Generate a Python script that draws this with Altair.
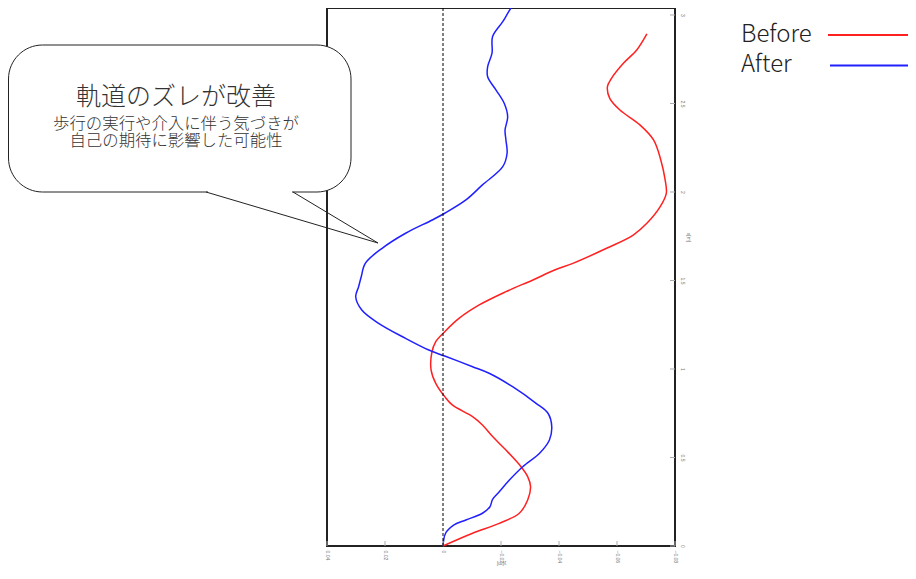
import altair as alt
import pandas as pd

# After (blue): x[m] along the walkway, y[m] lateral deviation
after_x = [0, 0.072, 0.119, 0.147, 0.185, 0.222, 0.264, 0.307, 0.373, 0.448, 0.524, 0.599,
           0.674, 0.750, 0.806, 0.900, 0.976, 1.013, 1.073, 1.107, 1.173, 1.258, 1.333,
           1.408, 1.465, 1.521, 1.597, 1.682, 1.767, 1.842, 1.880, 1.955, 2.040, 2.143,
           2.219, 2.294, 2.350, 2.425, 2.501, 2.576, 2.651, 2.708, 2.784, 2.878, 2.962,
           3.009, 3.039]
after_y = [0, -0.0009, -0.0038, -0.0079, -0.0136, -0.0162, -0.0171, -0.0194, -0.0229,
           -0.0275, -0.0333, -0.0367, -0.0375, -0.0362, -0.0321, -0.0240, -0.0159, -0.0102,
           -0.0006, 0.0049, 0.0129, 0.0222, 0.0280, 0.0301, 0.0291, 0.0282, 0.0268, 0.0210,
           0.0129, 0.0037, -0.0006, -0.0079, -0.0136, -0.0206, -0.0221, -0.0217, -0.0214,
           -0.0223, -0.0211, -0.0183, -0.0154, -0.0154, -0.0169, -0.0171, -0.0206, -0.0223,
           -0.0234]

# Before (red)
before_x = [0, 0.072, 0.128, 0.185, 0.260, 0.335, 0.392, 0.448, 0.542, 0.618, 0.684, 0.731,
            0.797, 0.844, 0.919, 0.994, 1.089, 1.154, 1.211, 1.286, 1.362, 1.437, 1.503,
            1.559, 1.597, 1.682, 1.757, 1.823, 1.917, 1.992, 2.068, 2.181, 2.294, 2.379,
            2.463, 2.529, 2.595, 2.642, 2.727, 2.802, 2.893]
before_y = [0, -0.0102, -0.0194, -0.0263, -0.0292, -0.0302, -0.0292, -0.0269, -0.0217,
            -0.0171, -0.0136, -0.0102, -0.0032, -0.0006, 0.0025, 0.0041, 0.0039, 0.0025,
            -0.0006, -0.0055, -0.0125, -0.0217, -0.0310, -0.0385, -0.0448, -0.0564, -0.0656,
            -0.0703, -0.0749, -0.0770, -0.0766, -0.0751, -0.0726, -0.0679, -0.0610, -0.0575,
            -0.0567, -0.0581, -0.0622, -0.0668, -0.0703]

ym_ticks = [0.04, 0.02, 0, -0.02, -0.04, -0.06, -0.08]
xm_ticks = [0, 0.5, 1, 1.5, 2, 2.5, 3]
series = ["Before", "After"]
colors = ["#ff2020", "#2020ff"]
bubble_lines = ["軌道のズレが改善", "歩行の実行や介入に伴う気づきが", "自己の期待に影響した可能性"]

rows = []
for i, (a, b) in enumerate(zip(before_x, before_y)):
    rows.append({"series": "Before", "i": i, "xm": a, "ym": b})
for i, (a, b) in enumerate(zip(after_x, after_y)):
    rows.append({"series": "After", "i": i, "xm": a, "ym": b})
df = pd.DataFrame(rows)

W, H = 348, 538
FONT = "Noto Sans CJK JP"
xs = alt.Scale(domain=[0.04, -0.08], nice=False, zero=False)
ys = alt.Scale(domain=[0, 3.0395], nice=False, zero=False)

x_axis = alt.Axis(
    values=ym_ticks, format=".2~f", labelAngle=90, labelAlign="left", labelBaseline="middle",
    labelFontSize=5, labelColor="#777", ticks=False, domain=False, grid=False,
    labelPadding=4, title="y[m]", titleAngle=180, titleFontSize=5, titleColor="#777",
    titleFontWeight="normal", titleX=W / 2, titleY=17, titleAlign="center",
    titleBaseline="middle")
y_axis = alt.Axis(
    orient="right", values=xm_ticks, format=".1~f", labelAngle=90, labelAlign="center",
    labelBaseline="bottom", labelFontSize=5, labelColor="#777", ticks=False, domain=False,
    grid=False, labelPadding=4, title="x[m]", titleAngle=90, titleFontSize=5,
    titleColor="#777", titleFontWeight="normal", titleX=13, titleY=229,
    titleAlign="center", titleBaseline="middle")

lines = alt.Chart(df).mark_line(strokeWidth=1.5, interpolate="catmull-rom").encode(
    x=alt.X("ym:Q", scale=xs, axis=x_axis),
    y=alt.Y("xm:Q", scale=ys, axis=y_axis),
    color=alt.Color("series:N", scale=alt.Scale(domain=series, range=colors), legend=None),
    order="i:Q",
)

tick_b = alt.Chart(pd.DataFrame({"ym": ym_ticks})).mark_rule(color="#aaa", strokeWidth=1).encode(
    x=alt.X("ym:Q", scale=xs, axis=x_axis), y=alt.value(H), y2=alt.value(H - 5))
tick_r = alt.Chart(pd.DataFrame({"xm": xm_ticks})).mark_rule(color="#aaa", strokeWidth=1).encode(
    y=alt.Y("xm:Q", scale=ys, axis=y_axis), x=alt.value(W), x2=alt.value(W - 5))
zero_line = alt.Chart(pd.DataFrame({"ym": [0]})).mark_rule(
    color="black", strokeDash=[3, 2], strokeWidth=1).encode(
    x=alt.X("ym:Q", scale=xs, axis=x_axis))

dummy = pd.DataFrame({"a": [0]})
bubble = alt.Chart(dummy).mark_rect(fill="white", stroke="#222", strokeWidth=1, cornerRadius=34).encode(
    x=alt.value(-318.5), x2=alt.value(24), y=alt.value(37), y2=alt.value(184))
gap = alt.Chart(dummy).mark_rule(color="white", strokeWidth=3).encode(
    x=alt.value(-119), x2=alt.value(-35), y=alt.value(184))
tail1 = alt.Chart(dummy).mark_rule(color="#222", strokeWidth=1).encode(
    x=alt.value(-121), y=alt.value(184), x2=alt.value(51), y2=alt.value(235))
tail2 = alt.Chart(dummy).mark_rule(color="#222", strokeWidth=1).encode(
    x=alt.value(-34), y=alt.value(184), x2=alt.value(51), y2=alt.value(235))

t1 = alt.Chart(dummy).mark_text(font=FONT, fontSize=25, color="#333", align="center",
                                baseline="middle", fontWeight=300).encode(
    x=alt.value(-151), y=alt.value(89), text=alt.value(bubble_lines[0]))
t2 = alt.Chart(dummy).mark_text(font=FONT, fontSize=16.4, color="#333", align="center",
                                baseline="middle", fontWeight=300).encode(
    x=alt.value(-151), y=alt.value(115.5), text=alt.value(bubble_lines[1]))
t3 = alt.Chart(dummy).mark_text(font=FONT, fontSize=16.4, color="#333", align="center",
                                baseline="middle", fontWeight=300).encode(
    x=alt.value(-151), y=alt.value(133), text=alt.value(bubble_lines[2]))

leg_t1 = alt.Chart(dummy).mark_text(font=FONT, fontSize=24, color="#222", align="left",
                                    baseline="alphabetic", fontWeight=300).encode(
    x=alt.value(414), y=alt.value(34), text=alt.value(series[0]))
leg_t2 = alt.Chart(dummy).mark_text(font=FONT, fontSize=24, color="#222", align="left",
                                    baseline="alphabetic", fontWeight=300).encode(
    x=alt.value(414), y=alt.value(64), text=alt.value(series[1]))
leg_l1 = alt.Chart(dummy).mark_rule(color=colors[0], strokeWidth=2).encode(
    x=alt.value(501), x2=alt.value(581), y=alt.value(27))
leg_l2 = alt.Chart(dummy).mark_rule(color=colors[1], strokeWidth=2).encode(
    x=alt.value(503), x2=alt.value(581), y=alt.value(57.5))

chart = alt.layer(
    lines, tick_b, tick_r, zero_line, bubble, gap, tail1, tail2, t1, t2, t3,
    leg_t1, leg_t2, leg_l1, leg_l2
).properties(
    width=W, height=H,
    autosize=alt.AutoSizeParams(type="none"),
    padding={"left": 319, "top": 0, "right": 233, "bottom": 25},
).configure_view(stroke="#222", strokeWidth=2)

chart.save("out.html", embed_options={"renderer": "svg", "actions": False})
